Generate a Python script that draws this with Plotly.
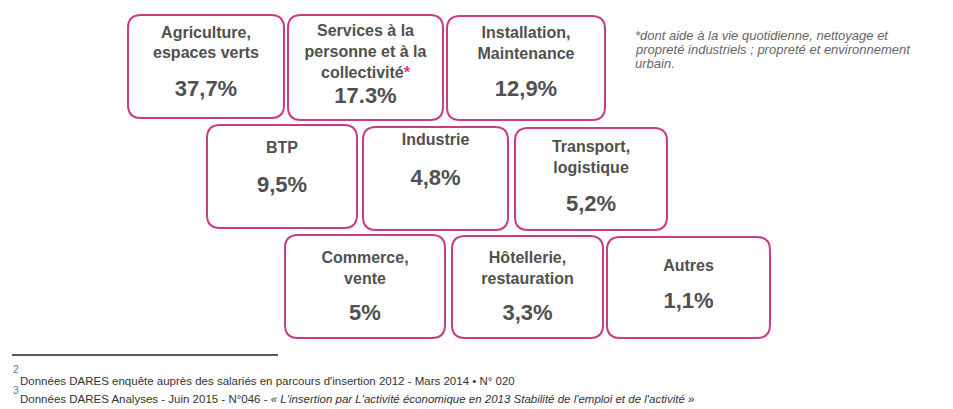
import plotly.graph_objects as go

##################################
### Data
##################################

sectors = [
    "Agriculture,<br>espaces verts",
    "Services à la<br>personne et à la<br>collectivité<span style='color:#d6378a'>*</span>",
    "Installation,<br>Maintenance",
    "BTP",
    "Industrie",
    "Transport,<br>logistique",
    "Commerce,<br>vente",
    "Hôtellerie,<br>restauration",
    "Autres",
]
shares = [37.7, 17.3, 12.9, 9.5, 4.8, 5.2, 5.0, 3.3, 1.1]
share_labels = ["37,7%", "17.3%", "12,9%", "9,5%", "4,8%", "5,2%", "5%", "3,3%", "1,1%"]

note_lines = [
    "*dont aide à la vie quotidienne, nettoyage et",
    "propreté industriels ; propreté et environnement",
    "urbain.",
]
sources = [
    "Données DARES enquête auprès des salariés en parcours d'insertion 2012 - Mars 2014 • N° 020",
    "Données DARES Analyses - Juin 2015 - N°046 - <i>« L'insertion par L'activité économique en 2013 Stabilité de l'emploi et de l'activité »</i>",
]

##################################
### Layout of the boxes (pixels)
##################################

box_x0 = [128, 288, 447, 207, 363, 515, 285, 452, 607]
box_x1 = [284, 443, 605, 357, 508, 667, 445, 603, 770]
box_y0 = [15, 15, 16, 125, 127, 128, 235, 236, 237]
box_y1 = [118, 120, 120, 228, 230, 230, 338, 338, 338]
label_y = [44, 53, 44.5, 149, 141, 158.5, 269.5, 269.5, 267]
value_y = [90, 97, 90, 186, 179, 205, 314, 314, 302]

BORDER = "#c93c83"
TEXT = "#505050"
FONT = "Liberation Sans, Arial, sans-serif"
PAGE_MARGIN = 8  # the html body adds 8px around the plot


def rounded_box(x0, y0, x1, y1, r=13):
    return (f"M {x0+r},{y0} L {x1-r},{y0} Q {x1},{y0} {x1},{y0+r} "
            f"L {x1},{y1-r} Q {x1},{y1} {x1-r},{y1} L {x0+r},{y1} "
            f"Q {x0},{y1} {x0},{y1-r} L {x0},{y0+r} Q {x0},{y0} {x0+r},{y0} Z")


fig = go.Figure()

# box frames
for x0, y0, x1, y1 in zip(box_x0, box_y0, box_x1, box_y1):
    fig.add_shape(type="path", path=rounded_box(x0, y0, x1, y1),
                  line=dict(color=BORDER, width=2), fillcolor="white",
                  xref="x", yref="y", layer="below")

centers = [(a + b) / 2 for a, b in zip(box_x0, box_x1)]

# sector names
fig.add_trace(go.Scatter(
    x=centers, y=label_y, mode="text", text=sectors,
    textposition="middle center",
    textfont=dict(family=FONT, size=16, color=TEXT, weight="bold"),
    hoverinfo="skip", showlegend=False,
))

# shares
fig.add_trace(go.Scatter(
    x=centers, y=value_y, mode="text", text=share_labels,
    textposition="middle center",
    textfont=dict(family=FONT, size=22, color=TEXT, weight="bold"),
    customdata=shares, hovertemplate="%{customdata}%<extra></extra>",
    showlegend=False,
))

# side note
for i, line in enumerate(note_lines):
    fig.add_annotation(x=633, y=35 + 14 * i, xref="x", yref="y", text=line,
                       showarrow=False, xanchor="left", yanchor="middle",
                       font=dict(family=FONT, size=13, color="#666666", style="italic"))

# footnotes
fig.add_shape(type="line", x0=12, x1=278, y0=355, y1=355, xref="x", yref="y",
              line=dict(color="#222222", width=1.5))
for i, src in enumerate(sources):
    fig.add_annotation(x=11, y=369 + 21 * i, xref="x", yref="y", text=str(i + 2),
                       showarrow=False, xanchor="left", yanchor="middle",
                       font=dict(family=FONT, size=10, color="#3b7dc4"))
    fig.add_annotation(x=18, y=381 + 18 * i, xref="x", yref="y", text=src,
                       showarrow=False, xanchor="left", yanchor="middle",
                       font=dict(family=FONT, size=11.5, color="#333333"))

fig.update_xaxes(range=[PAGE_MARGIN, 953 + PAGE_MARGIN], visible=False, fixedrange=True)
fig.update_yaxes(range=[409 + PAGE_MARGIN, PAGE_MARGIN], visible=False, fixedrange=True)
fig.update_layout(
    width=953, height=409,
    margin=dict(l=0, r=0, t=0, b=0),
    paper_bgcolor="white", plot_bgcolor="white",
    showlegend=False,
)

fig.write_html("out.html")
